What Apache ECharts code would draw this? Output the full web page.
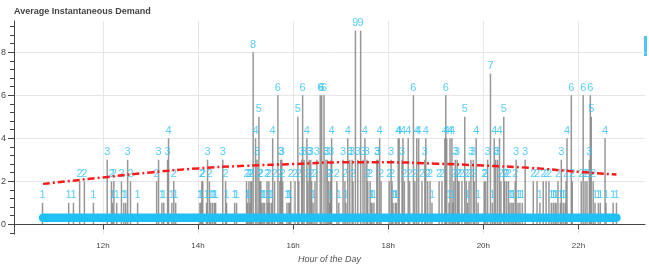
<!DOCTYPE html>
<html>
<head>
<meta charset="utf-8">
<script src="https://cdn.jsdelivr.net/npm/echarts@6/dist/echarts.min.js"></script>
<style>
  html, body { margin: 0; padding: 0; background: #fff; }
  #chart { width: 649px; height: 265px; }
</style>
</head>
<body>
<div id="chart"></div>
<script>
const titleText = 'Average Instantaneous Demand'
const xAxisName = 'Hour of the Day'
const xTicks = [12, 14, 16, 18, 20, 22]
const yTicks = [0, 2, 4, 6, 8]
const yMinorTicks = [-0.4, 0.4, 0.8, 1.2, 1.6, 2.4, 2.8, 3.2, 3.6, 4.4, 4.8, 5.2, 5.6, 6.4, 6.8, 7.2, 7.6, 8.4, 8.8, 9.2]

// events: hour of day and demand value
const barHours = [
  10.73, 11.28, 11.38, 11.51, 11.61, 11.80, 12.09, 12.18, 12.20, 12.23, 12.29, 12.39, 12.44, 12.48, 12.52, 12.58, 12.73,
  13.13, 13.17, 13.24, 13.28, 13.36, 13.38, 13.45, 13.49, 13.53,
  14.04, 14.06, 14.08, 14.10, 14.18, 14.20, 14.24, 14.27, 14.31, 14.35, 14.37, 14.52, 14.58, 14.60, 14.77, 14.81,
  15.02, 15.04, 15.07, 15.09, 15.11, 15.13, 15.16, 15.21, 15.24, 15.28, 15.30, 15.32, 15.34, 15.37, 15.40, 15.45, 15.47, 15.49,
  15.51, 15.55, 15.57, 15.61, 15.68, 15.72, 15.74, 15.76, 15.78, 15.87, 15.91, 15.93, 15.95, 16.04,
  16.10, 16.12, 16.18, 16.20, 16.23, 16.29, 16.31, 16.34, 16.37, 16.39, 16.42, 16.46, 16.50, 16.57, 16.60, 16.65, 16.69, 16.72,
  16.75, 16.77, 16.79, 16.80, 16.81, 16.92, 16.96,
  17.05, 17.09, 17.11, 17.15, 17.19, 17.24, 17.26, 17.31, 17.36, 17.42, 17.47, 17.51, 17.55, 17.57, 17.62, 17.64, 17.66, 17.70,
  17.76, 17.78, 17.82, 17.85,
  18.02, 18.06, 18.08, 18.10, 18.15, 18.17, 18.21, 18.23, 18.29, 18.31, 18.34, 18.42, 18.45, 18.53, 18.56, 18.60, 18.64, 18.71,
  18.77, 18.79, 18.83, 18.88, 18.92,
  19.07, 19.13, 19.19, 19.21, 19.23, 19.28, 19.30, 19.34, 19.36, 19.38, 19.41, 19.45, 19.47, 19.49, 19.55, 19.61, 19.64, 19.67,
  19.70, 19.74, 19.79, 19.81, 19.85, 19.89,
  20.02, 20.05, 20.09, 20.15, 20.19, 20.23, 20.26, 20.30, 20.34, 20.37, 20.43, 20.45, 20.49, 20.53, 20.56, 20.60, 20.63, 20.67,
  20.69, 20.73, 20.77, 20.82, 20.88,
  21.05, 21.13, 21.19, 21.26, 21.32, 21.38, 21.43, 21.47, 21.51, 21.53, 21.57, 21.62, 21.64, 21.68, 21.72, 21.74, 21.76, 21.85, 21.87,
  22.06, 22.10, 22.14, 22.18, 22.23, 22.25, 22.27, 22.31, 22.35, 22.42, 22.46, 22.56, 22.58, 22.73, 22.80
]
const barValues = [
  1, 1, 1, 2, 2, 1, 3, 2, 1, 2, 1, 2, 1, 1, 3, 2, 1,
  2, 3, 1, 1, 3, 4, 1, 2, 1,
  1, 1, 2, 2, 1, 3, 2, 1, 1, 1, 1, 3, 2, 1, 1, 1,
  2, 1, 2, 1, 2, 2, 8, 4, 3, 5, 2, 2, 1, 1, 1, 2, 1, 2,
  1, 1, 4, 2, 6, 2, 3, 3, 2, 1, 1, 1, 2, 2,
  5, 2, 3, 6, 3, 4, 2, 3, 3, 2, 1, 2, 3, 6, 6, 6, 3, 3,
  2, 1, 2, 3, 4, 2, 1,
  3, 2, 1, 4, 3, 3, 2, 9, 3, 9, 3, 4, 3, 2, 2, 1, 1, 1,
  3, 3, 4, 2,
  2, 3, 2, 1, 1, 1, 4, 4, 3, 4, 2, 4, 2, 6, 2, 4, 4, 2,
  3, 4, 2, 2, 1,
  2, 2, 4, 6, 4, 1, 4, 4, 1, 2, 3, 3, 2, 2, 2, 5, 2, 1,
  2, 3, 3, 2, 4, 1,
  2, 2, 3, 7, 1, 4, 3, 3, 4, 2, 5, 2, 2, 2, 1, 1, 1, 2,
  3, 1, 1, 1, 3,
  2, 2, 1, 2, 2, 2, 1, 1, 1, 1, 2, 1, 3, 1, 1, 2, 4, 6, 2,
  2, 6, 2, 2, 3, 6, 5, 2, 1, 1, 1, 4, 1, 1, 1
]

// band of event markers near the floor
const bandHours = [10.74, 22.80]
const bandLevel = 0.3

// fitted trend
const trendHours = [10.74, 12, 13, 14, 15, 16, 17, 18, 19, 20, 21, 22, 22.8]
const trendValues = [1.88, 2.18, 2.41, 2.6, 2.72, 2.8, 2.88, 2.88, 2.82, 2.73, 2.62, 2.44, 2.31]

const font = 'Liberation Sans, Arial, Helvetica, sans-serif'
const chart = echarts.init(document.getElementById('chart'))

chart.setOption({
  animation: false,
  textStyle: { fontFamily: font },
  title: {
    text: titleText, left: 14, top: 7, padding: 0,
    textStyle: { fontSize: 9, fontWeight: 'bold', color: '#444', fontFamily: font }
  },
  grid: { left: 14, right: 4, top: 21, bottom: 31, containLabel: false, outerBoundsMode: 'none' },
  xAxis: {
    type: 'value', min: 10.13, max: 23.4,
    name: xAxisName, nameLocation: 'middle', nameGap: 21,
    nameTextStyle: { fontSize: 9, fontStyle: 'italic', color: '#555', fontFamily: font },
    axisLine: { lineStyle: { color: '#444', width: 1 } },
    axisTick: { length: 5, customValues: xTicks, lineStyle: { color: '#444' } },
    axisLabel: { customValues: xTicks, fontSize: 8, color: '#444', margin: 8, formatter: (v) => v + 'h' },
    splitLine: { show: true, lineStyle: { color: '#e6e6e6', width: 1 } }
  },
  yAxis: [{
    type: 'value', min: -0.45, max: 9.45,
    axisLine: { show: true, lineStyle: { color: '#444', width: 1 } },
    axisTick: { show: true, length: 6, customValues: yTicks, lineStyle: { color: '#444' } },
    axisLabel: { customValues: yTicks, fontSize: 9, color: '#444', margin: 8 },
    splitLine: { show: true, lineStyle: { color: '#e6e6e6', width: 1 } }
  }, {
    type: 'value', min: -0.45, max: 9.45, position: 'left',
    axisLine: { show: false },
    axisTick: { show: true, length: 4, customValues: yMinorTicks, lineStyle: { color: '#444' } },
    axisLabel: { show: false, customValues: yMinorTicks },
    splitLine: { show: false }
  }],
  series: [{
    type: 'bar',
    data: barHours.map((h, i) => [h, barValues[i]]),
    barWidth: 1.5,
    itemStyle: { color: '#858585', opacity: 0.85 },
    label: {
      show: true, position: 'top', distance: 2,
      fontSize: 11, color: '#3cc3f5', fontFamily: font,
      formatter: (p) => p.value[1]
    },
    z: 2
  }, {
    type: 'line',
    data: bandHours.map((h) => [h, bandLevel]),
    symbol: 'none',
    lineStyle: { color: '#1ec0f5', width: 8.5, cap: 'round' },
    z: 3
  }, {
    type: 'line',
    data: trendHours.map((h, i) => [h, trendValues[i]]),
    smooth: true,
    symbol: 'none',
    lineStyle: { color: '#ff1a1a', width: 2.5, type: [7, 3, 2, 3] },
    z: 4
  }],
  graphic: [{
    type: 'rect', right: 2, top: 36,
    shape: { width: 3, height: 20 },
    style: { fill: '#4fc3f7' }
  }]
})
</script>
</body>
</html>
